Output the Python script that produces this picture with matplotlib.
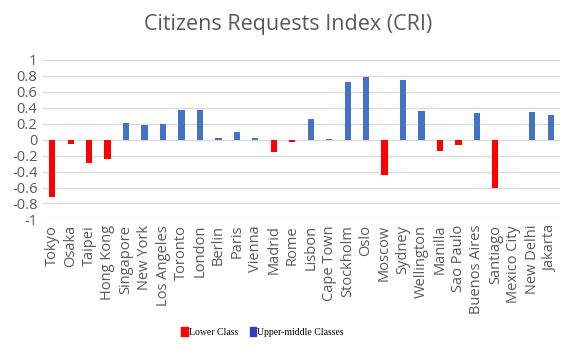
import matplotlib.pyplot as plt
from matplotlib.patches import Patch

cities = ["Tokyo", "Osaka", "Taipei", "Hong Kong", "Singapore", "New York",
          "Los Angeles", "Toronto", "London", "Berlin", "Paris", "Vienna",
          "Madrid", "Rome", "Lisbon", "Cape Town", "Stockholm", "Oslo",
          "Moscow", "Sydney", "Wellington", "Manilla", "Sao Paulo",
          "Buenos Aires", "Santiago", "Mexico City", "New Delhi", "Jakarta"]
cri = [-0.725, -0.05, -0.29, -0.24, 0.21, 0.18,
       0.195, 0.37, 0.37, 0.02, 0.10, 0.015,
       -0.155, -0.03, 0.256, 0.003, 0.72, 0.79,
       -0.445, 0.75, 0.36, -0.14, -0.067,
       0.33, -0.61, 0.002, 0.345, 0.31]
yticks = [1, 0.8, 0.6, 0.4, 0.2, 0, -0.2, -0.4, -0.6, -0.8, -1]

red = "#FF0000"
blue = "#4472C4"

plt.rcParams["font.family"] = ["Open Sans", "DejaVu Sans"]

fig = plt.figure(figsize=(5.77, 3.55), dpi=100)
ax = fig.add_axes([0.0745, 0.382, 0.896, 0.449])

x = list(range(len(cities)))
colors = [red if v < 0 else blue for v in cri]
ax.bar(x, cri, width=0.34, color=colors, zorder=3)

ax.set_xlim(-0.5, len(cities) - 0.5)
ax.set_ylim(-1, 1)
ax.set_yticks(yticks)
ax.set_yticklabels([f"{t:g}" for t in yticks], fontsize=10.5, color="#595959")
ax.set_xticks(x)
ax.set_xticklabels(cities, rotation=90, fontsize=10.5, color="#595959")
ax.tick_params(length=0, pad=4)
ax.grid(axis="y", color="#D9D9D9", linewidth=0.9, zorder=0)
for s in ax.spines.values():
    s.set_visible(False)

fig.text(0.5, 0.93, "Citizens Requests Index (CRI)", ha="center", va="center",
         fontsize=15.5, color="#595959")

handles = [Patch(color=red, label="Lower Class"),
           Patch(color="#3B3BC0", label="Upper-middle Classes")]
fig.legend(handles=handles, loc="center", bbox_to_anchor=(0.455, 0.065), ncol=2,
           frameon=False, handlelength=0.7, handleheight=1.1, handletextpad=0.1,
           columnspacing=1.2, prop={"family": "Liberation Serif", "size": 7})

fig.savefig("out.png", dpi=100)
